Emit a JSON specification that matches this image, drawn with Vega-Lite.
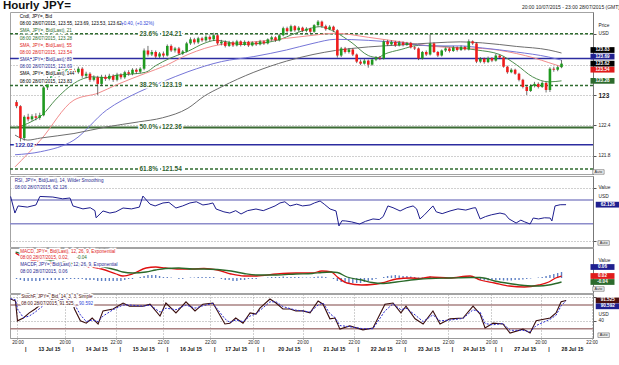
{
"$schema":"https://vega.github.io/schema/vega-lite/v6.json",
"background":"white",
"padding":{"left":2,"top":0,"right":0,"bottom":0},
"spacing":-1,
"title":{"text":"Hourly JPY=","anchor":"start","fontSize":11.5,"fontWeight":"bold","color":"#111111","offset":-7,"dx":-5},
"config":{"font":"Liberation Sans","view":{"stroke":"#a3a3a3","strokeWidth":1}},
"datasets":{
"levels":[{"lvl":124.21,"k":"fib"},{"lvl":123.19,"k":"fib"},{"lvl":121.54,"k":"fib"},{"lvl":122.36,"k":"half"},{"lvl":123.72,"k":"blue"},{"lvl":122.02,"k":"blue"}],
"fibs":[{"lvl":124.21,"a":"23.6%","b":"124.21"},{"lvl":123.19,"a":"38.2%","b":"123.19"},{"lvl":122.36,"a":"50.0%","b":"122.36"},{"lvl":121.54,"a":"61.8%","b":"121.54"}],
"blvl":[{"lvl":122.02,"a":"122.02"}],
"rsiLv":[{"lvl":70},{"lvl":30}],
"stLv":[{"lvl":80},{"lvl":20}],
"boxes":[{"pn":"p","v":123.83,"t":"123.83","s":"k"},{"pn":"p","v":123.69,"t":"123.69","s":"n"},{"pn":"p","v":123.62,"t":"123.62","s":"k"},{"pn":"p","v":123.54,"t":"123.54","s":"r"},{"pn":"p","v":123.28,"t":"123.28","s":"g"},{"pn":"r","v":62.126,"t":"62.126","s":"n"},{"pn":"m","v":0.06,"t":"0.06","s":"n"},{"pn":"m","v":0.02,"t":"0.02","s":"r"},{"pn":"m","v":-0.04,"t":"-0.04","s":"g"},{"pn":"s","v":91.525,"t":"91.525","s":"br"},{"pn":"s","v":90.592,"t":"90.592","s":"n"}],
"legP":[{"n":0,"t":"Cndl, JPY=, Bid","s":"k","p":1},{"n":1,"t":"08:00 28/07/2015, 123.55, 123.69, 123.53, 123.62,","s":"k","p":1},{"n":1,"t":"+0.40, (+0.32%)","s":"b","p":2},{"n":2,"t":"SMA, JPY=, Bid(Last), 21","s":"g","p":1},{"n":3,"t":"08:00 28/07/2015, 123.28","s":"g","p":1},{"n":4,"t":"SMA, JPY=, Bid(Last), 55","s":"r","p":1},{"n":5,"t":"08:00 28/07/2015, 123.54","s":"r","p":1},{"n":6,"t":"SMA, JPY=, Bid(Last), 89","s":"n","p":1},{"n":7,"t":"08:00 28/07/2015, 123.69","s":"n","p":1},{"n":8,"t":"SMA, JPY=, Bid(Last), 144","s":"k","p":1},{"n":9,"t":"08:00 28/07/2015, 123.83","s":"k","p":1}],
"legR":[{"n":0,"t":"RSI, JPY=, Bid(Last), 14, Wilder Smoothing","s":"n","p":1},{"n":1,"t":"08:00 28/07/2015, 62.126","s":"n","p":1}],
"legM":[{"n":0,"t":"MACD, JPY=, Bid(Last), 12, 26, 9, Exponential","s":"r","p":1},{"n":1,"t":"08:00 28/07/2015, 0.02,","s":"r","p":1},{"n":1,"t":"-0.04","s":"g","p":2},{"n":2,"t":"MACDF, JPY=, Bid(Last), 12, 26, 9, Exponential","s":"n","p":1},{"n":3,"t":"08:00 28/07/2015, 0.06","s":"n","p":1}],
"legS":[{"n":0,"t":"StochF, JPY=, Bid, 14, 3, 3, Simple","s":"br","p":1},{"n":1,"t":"08:00 28/07/2015, 91.525,","s":"br","p":1},{"n":1,"t":"90.592","s":"b","p":2}],
"sma":[
{"s":"s21","i":-3.8,"p":122.35},{"s":"s21","i":5,"p":122.48},{"s":"s21","i":10.4,"p":122.61},{"s":"s21","i":17,"p":122.9},{"s":"s21","i":24.2,"p":123.16},{"s":"s21","i":30,"p":123.3},{"s":"s21","i":36,"p":123.36},{"s":"s21","i":43.5,"p":123.34},{"s":"s21","i":48.6,"p":123.39},{"s":"s21","i":55,"p":123.41},{"s":"s21","i":63.8,"p":123.45},{"s":"s21","i":69,"p":123.58},{"s":"s21","i":76,"p":123.72},{"s":"s21","i":86,"p":123.87},{"s":"s21","i":94,"p":124.02},{"s":"s21","i":100,"p":124.08},{"s":"s21","i":106,"p":124.05},{"s":"s21","i":113,"p":124.0},{"s":"s21","i":119,"p":124.01},{"s":"s21","i":125,"p":124.03},{"s":"s21","i":133.5,"p":124.1},{"s":"s21","i":140,"p":124.2},{"s":"s21","i":146,"p":124.28},{"s":"s21","i":154,"p":124.35},{"s":"s21","i":162,"p":124.24},{"s":"s21","i":170.6,"p":124.03},{"s":"s21","i":179,"p":123.78},{"s":"s21","i":184,"p":123.74},{"s":"s21","i":187,"p":123.8},{"s":"s21","i":196,"p":123.9},{"s":"s21","i":205,"p":123.98},{"s":"s21","i":213,"p":123.97},{"s":"s21","i":226.6,"p":123.93},{"s":"s21","i":235,"p":123.89},{"s":"s21","i":247,"p":123.8},{"s":"s21","i":255.6,"p":123.6},{"s":"s21","i":264,"p":123.36},{"s":"s21","i":272.4,"p":123.26},{"s":"s21","i":279,"p":123.28},
{"s":"s55","i":-3.8,"p":121.58},{"s":"s55","i":9.4,"p":122.11},{"s":"s55","i":26.7,"p":122.9},{"s":"s55","i":39.4,"p":123.04},{"s":"s55","i":48.6,"p":123.2},{"s":"s55","i":63.8,"p":123.43},{"s":"s55","i":74,"p":123.58},{"s":"s55","i":85.7,"p":123.8},{"s":"s55","i":103,"p":124.0},{"s":"s55","i":119.8,"p":124.05},{"s":"s55","i":136.7,"p":124.12},{"s":"s55","i":150.4,"p":124.18},{"s":"s55","i":162,"p":124.22},{"s":"s55","i":179,"p":124.14},{"s":"s55","i":196,"p":124.05},{"s":"s55","i":213,"p":123.96},{"s":"s55","i":226.6,"p":123.93},{"s":"s55","i":238,"p":123.92},{"s":"s55","i":255.6,"p":123.82},{"s":"s55","i":265,"p":123.73},{"s":"s55","i":272.4,"p":123.64},{"s":"s55","i":279,"p":123.56},
{"s":"s89","i":-3.8,"p":121.82},{"s":"s89","i":9.4,"p":121.88},{"s":"s89","i":26.7,"p":122.11},{"s":"s89","i":43.5,"p":122.7},{"s":"s89","i":60.3,"p":123.06},{"s":"s89","i":72.5,"p":123.26},{"s":"s89","i":85.7,"p":123.46},{"s":"s89","i":103,"p":123.66},{"s":"s89","i":119.8,"p":123.76},{"s":"s89","i":136.7,"p":123.89},{"s":"s89","i":150.4,"p":124.02},{"s":"s89","i":162,"p":124.1},{"s":"s89","i":179,"p":124.08},{"s":"s89","i":196,"p":124.03},{"s":"s89","i":213,"p":123.97},{"s":"s89","i":226.6,"p":123.97},{"s":"s89","i":238,"p":123.93},{"s":"s89","i":255.6,"p":123.85},{"s":"s89","i":272.4,"p":123.75},{"s":"s89","i":279,"p":123.69},
{"s":"s144","i":-3.8,"p":122.21},{"s":"s144","i":2.8,"p":122.11},{"s":"s144","i":9.4,"p":122.15},{"s":"s144","i":26.7,"p":122.24},{"s":"s144","i":43.5,"p":122.37},{"s":"s144","i":60.3,"p":122.47},{"s":"s144","i":72.5,"p":122.55},{"s":"s144","i":85.7,"p":122.74},{"s":"s144","i":94.2,"p":122.98},{"s":"s144","i":103,"p":123.16},{"s":"s144","i":119.8,"p":123.45},{"s":"s144","i":136.7,"p":123.67},{"s":"s144","i":150.4,"p":123.8},{"s":"s144","i":162,"p":123.88},{"s":"s144","i":179,"p":123.95},{"s":"s144","i":196,"p":123.99},{"s":"s144","i":213,"p":124.03},{"s":"s144","i":226.6,"p":124.05},{"s":"s144","i":238,"p":124.03},{"s":"s144","i":255.6,"p":123.96},{"s":"s144","i":272.4,"p":123.89},{"s":"s144","i":279,"p":123.83}],
"cdl":[
{"i":-3,"o":122.86,"h":122.9,"l":122.74,"c":122.78,"m":-0.01},{"i":-1,"o":122.78,"h":122.8,"l":122.02,"c":122.15,"m":-0.02},{"i":1,"o":122.15,"h":122.6,"l":122.1,"c":122.57,"m":-0.03},{"i":3,"o":122.57,"h":122.63,"l":122.48,"c":122.52,"m":-0.03},{"i":5,"o":122.52,"h":122.62,"l":122.49,"c":122.58,"m":-0.03},{"i":7,"o":122.58,"h":122.64,"l":122.5,"c":122.55,"m":-0.03},{"i":9,"o":122.55,"h":122.65,"l":122.51,"c":122.6,"m":-0.03},{"i":11,"o":122.6,"h":123.18,"l":122.58,"c":123.15,"m":-0.02},{"i":13,"o":123.15,"h":123.36,"l":123.1,"c":123.3,"m":-0.02},{"i":15,"o":123.3,"h":123.46,"l":123.26,"c":123.42,"m":-0.02},{"i":17,"o":123.42,"h":123.47,"l":123.33,"c":123.38,"m":-0.02},{"i":19,"o":123.38,"h":123.55,"l":123.35,"c":123.5,"m":-0.02},{"i":21,"o":123.5,"h":123.56,"l":123.4,"c":123.45,"m":-0.02},{"i":23,"o":123.45,"h":123.6,"l":123.42,"c":123.55,"m":-0.01},{"i":25,"o":123.55,"h":123.58,"l":123.44,"c":123.48,"m":-0.01},{"i":27,"o":123.48,"h":123.52,"l":123.4,"c":123.45,"m":-0.01},{"i":29,"o":123.45,"h":123.56,"l":123.42,"c":123.52,"m":-0.01},{"i":31,"o":123.52,"h":123.55,"l":123.34,"c":123.38,"m":-0.01},{"i":33,"o":123.38,"h":123.46,"l":123.33,"c":123.42,"m":-0.02},{"i":35,"o":123.42,"h":123.45,"l":123.26,"c":123.3,"m":-0.02},{"i":37,"o":123.3,"h":123.39,"l":123.27,"c":123.35,"m":-0.02},{"i":39,"o":123.35,"h":123.38,"l":123.0,"c":123.22,"m":-0.03},{"i":41,"o":123.22,"h":123.4,"l":123.18,"c":123.36,"m":-0.03},{"i":43,"o":123.36,"h":123.4,"l":123.28,"c":123.32,"m":-0.03},{"i":45,"o":123.32,"h":123.42,"l":123.29,"c":123.38,"m":-0.03},{"i":47,"o":123.38,"h":123.41,"l":123.26,"c":123.3,"m":-0.03},{"i":49,"o":123.3,"h":123.44,"l":123.27,"c":123.4,"m":-0.03},{"i":51,"o":123.4,"h":123.43,"l":123.31,"c":123.35,"m":-0.03},{"i":53,"o":123.35,"h":123.48,"l":123.32,"c":123.45,"m":-0.02},{"i":55,"o":123.45,"h":123.49,"l":123.38,"c":123.42,"m":-0.01},{"i":57,"o":123.42,"h":123.53,"l":123.39,"c":123.5,"m":-0.01},{"i":59,"o":123.5,"h":123.53,"l":123.42,"c":123.46,"m":0},{"i":61,"o":123.46,"h":123.55,"l":123.43,"c":123.52,"m":0.01},{"i":63,"o":123.52,"h":123.92,"l":123.49,"c":123.88,"m":0.02},{"i":65,"o":123.88,"h":123.97,"l":123.76,"c":123.8,"m":0.03},{"i":67,"o":123.8,"h":123.89,"l":123.77,"c":123.85,"m":0.03},{"i":69,"o":123.85,"h":123.88,"l":123.72,"c":123.76,"m":0.03},{"i":71,"o":123.76,"h":123.85,"l":123.73,"c":123.82,"m":0.02},{"i":73,"o":123.82,"h":123.86,"l":123.74,"c":123.78,"m":0.01},{"i":75,"o":123.78,"h":124.0,"l":123.76,"c":123.97,"m":0.01},{"i":77,"o":123.97,"h":124.0,"l":123.85,"c":123.88,"m":0.005},{"i":79,"o":123.88,"h":123.95,"l":123.84,"c":123.92,"m":0},{"i":81,"o":123.92,"h":123.95,"l":123.79,"c":123.82,"m":-0.01},{"i":83,"o":123.82,"h":123.89,"l":123.79,"c":123.86,"m":-0.01},{"i":85,"o":123.86,"h":124.05,"l":123.84,"c":124.02,"m":0},{"i":87,"o":124.02,"h":124.14,"l":123.99,"c":124.1,"m":0.005},{"i":89,"o":124.1,"h":124.13,"l":124.0,"c":124.04,"m":0.005},{"i":91,"o":124.04,"h":124.15,"l":124.01,"c":124.12,"m":0.01},{"i":93,"o":124.12,"h":124.15,"l":124.05,"c":124.08,"m":0.01},{"i":95,"o":124.08,"h":124.18,"l":124.05,"c":124.15,"m":0.01},{"i":97,"o":124.15,"h":124.18,"l":124.06,"c":124.1,"m":0.01},{"i":99,"o":124.1,"h":124.23,"l":124.07,"c":124.18,"m":0.01},{"i":101,"o":124.18,"h":124.2,"l":123.99,"c":124.02,"m":0},{"i":103,"o":124.02,"h":124.09,"l":123.98,"c":124.05,"m":-0.01},{"i":105,"o":124.05,"h":124.08,"l":123.94,"c":123.97,"m":-0.02},{"i":107,"o":123.97,"h":124.07,"l":123.95,"c":124.04,"m":-0.02},{"i":109,"o":124.04,"h":124.07,"l":123.95,"c":123.98,"m":-0.03},{"i":111,"o":123.98,"h":124.09,"l":123.96,"c":124.06,"m":-0.03},{"i":113,"o":124.06,"h":124.08,"l":123.96,"c":123.99,"m":-0.02},{"i":115,"o":123.99,"h":124.08,"l":123.97,"c":124.05,"m":-0.02},{"i":117,"o":124.05,"h":124.07,"l":123.95,"c":123.98,"m":-0.01},{"i":119,"o":123.98,"h":124.06,"l":123.96,"c":124.04,"m":-0.01},{"i":121,"o":124.04,"h":124.06,"l":123.97,"c":124.0,"m":-0.01},{"i":123,"o":124.0,"h":124.09,"l":123.98,"c":124.06,"m":0},{"i":125,"o":124.06,"h":124.08,"l":123.99,"c":124.02,"m":0},{"i":127,"o":124.02,"h":124.12,"l":124.0,"c":124.1,"m":0.005},{"i":129,"o":124.1,"h":124.17,"l":124.07,"c":124.14,"m":0.01},{"i":131,"o":124.14,"h":124.16,"l":124.05,"c":124.08,"m":0.01},{"i":133,"o":124.08,"h":124.21,"l":124.06,"c":124.18,"m":0.01},{"i":135,"o":124.18,"h":124.35,"l":124.16,"c":124.32,"m":0.015},{"i":137,"o":124.32,"h":124.35,"l":124.23,"c":124.26,"m":0.01},{"i":139,"o":124.26,"h":124.39,"l":124.24,"c":124.36,"m":0.01},{"i":141,"o":124.36,"h":124.38,"l":124.25,"c":124.28,"m":0.01},{"i":143,"o":124.28,"h":124.36,"l":124.25,"c":124.33,"m":0.01},{"i":145,"o":124.33,"h":124.35,"l":124.24,"c":124.27,"m":0.005},{"i":147,"o":124.27,"h":124.34,"l":124.24,"c":124.31,"m":0.005},{"i":149,"o":124.31,"h":124.33,"l":124.22,"c":124.25,"m":0.005},{"i":151,"o":124.25,"h":124.4,"l":124.23,"c":124.38,"m":0.01},{"i":153,"o":124.38,"h":124.48,"l":124.35,"c":124.45,"m":0.015},{"i":155,"o":124.45,"h":124.47,"l":124.33,"c":124.36,"m":0.015},{"i":157,"o":124.36,"h":124.39,"l":124.27,"c":124.3,"m":0.01},{"i":159,"o":124.3,"h":124.38,"l":124.28,"c":124.35,"m":0},{"i":161,"o":124.35,"h":124.37,"l":124.25,"c":124.28,"m":-0.01},{"i":163,"o":124.28,"h":124.3,"l":123.74,"c":123.78,"m":-0.03},{"i":165,"o":123.78,"h":123.95,"l":123.75,"c":123.92,"m":-0.04},{"i":167,"o":123.92,"h":123.95,"l":123.82,"c":123.85,"m":-0.05},{"i":169,"o":123.85,"h":123.93,"l":123.82,"c":123.9,"m":-0.05},{"i":171,"o":123.9,"h":123.92,"l":123.77,"c":123.8,"m":-0.05},{"i":173,"o":123.8,"h":123.82,"l":123.63,"c":123.66,"m":-0.05},{"i":175,"o":123.66,"h":123.7,"l":123.59,"c":123.62,"m":-0.05},{"i":177,"o":123.62,"h":123.71,"l":123.6,"c":123.68,"m":-0.04},{"i":179,"o":123.68,"h":123.7,"l":123.54,"c":123.6,"m":-0.03},{"i":181,"o":123.6,"h":123.73,"l":123.58,"c":123.7,"m":-0.02},{"i":183,"o":123.7,"h":123.77,"l":123.67,"c":123.74,"m":-0.01},{"i":185,"o":123.74,"h":123.77,"l":123.69,"c":123.72,"m":0},{"i":187,"o":123.72,"h":124.09,"l":123.7,"c":124.06,"m":0.01},{"i":189,"o":124.06,"h":124.09,"l":123.97,"c":124.0,"m":0.02},{"i":191,"o":124.0,"h":124.08,"l":123.98,"c":124.05,"m":0.025},{"i":193,"o":124.05,"h":124.07,"l":123.95,"c":123.98,"m":0.03},{"i":195,"o":123.98,"h":124.07,"l":123.96,"c":124.04,"m":0.025},{"i":197,"o":124.04,"h":124.06,"l":123.96,"c":123.99,"m":0.02},{"i":199,"o":123.99,"h":124.05,"l":123.97,"c":124.03,"m":0.02},{"i":201,"o":124.03,"h":124.05,"l":123.92,"c":123.94,"m":0.015},{"i":203,"o":123.94,"h":123.97,"l":123.89,"c":123.92,"m":0.01},{"i":205,"o":123.92,"h":123.94,"l":123.69,"c":123.72,"m":0.005},{"i":207,"o":123.72,"h":123.87,"l":123.7,"c":123.85,"m":0.005},{"i":209,"o":123.85,"h":123.88,"l":123.77,"c":123.8,"m":0.01},{"i":211,"o":123.8,"h":124.2,"l":123.78,"c":124.02,"m":0.015},{"i":213,"o":124.02,"h":124.04,"l":123.83,"c":123.85,"m":0.01},{"i":215,"o":123.85,"h":123.87,"l":123.75,"c":123.78,"m":0.005},{"i":217,"o":123.78,"h":123.9,"l":123.76,"c":123.88,"m":0},{"i":219,"o":123.88,"h":123.94,"l":123.85,"c":123.92,"m":0},{"i":221,"o":123.92,"h":123.94,"l":123.84,"c":123.87,"m":0},{"i":223,"o":123.87,"h":123.97,"l":123.85,"c":123.94,"m":0.005},{"i":225,"o":123.94,"h":123.96,"l":123.86,"c":123.89,"m":0.005},{"i":227,"o":123.89,"h":123.98,"l":123.87,"c":123.95,"m":0.01},{"i":229,"o":123.95,"h":123.97,"l":123.88,"c":123.9,"m":0.01},{"i":231,"o":123.9,"h":124.1,"l":123.88,"c":124.06,"m":0.015},{"i":233,"o":124.06,"h":124.08,"l":123.99,"c":124.02,"m":0.01},{"i":235,"o":124.02,"h":124.04,"l":123.63,"c":123.66,"m":-0.01},{"i":237,"o":123.66,"h":123.75,"l":123.63,"c":123.72,"m":-0.02},{"i":239,"o":123.72,"h":123.74,"l":123.62,"c":123.65,"m":-0.025},{"i":241,"o":123.65,"h":123.76,"l":123.63,"c":123.73,"m":-0.025},{"i":243,"o":123.73,"h":123.75,"l":123.65,"c":123.68,"m":-0.02},{"i":245,"o":123.68,"h":123.81,"l":123.66,"c":123.78,"m":-0.02},{"i":247,"o":123.78,"h":123.8,"l":123.71,"c":123.74,"m":-0.02},{"i":249,"o":123.74,"h":123.76,"l":123.54,"c":123.56,"m":-0.025},{"i":251,"o":123.56,"h":123.58,"l":123.42,"c":123.45,"m":-0.025},{"i":253,"o":123.45,"h":123.53,"l":123.43,"c":123.5,"m":-0.025},{"i":255,"o":123.5,"h":123.52,"l":123.4,"c":123.42,"m":-0.02},{"i":257,"o":123.42,"h":123.44,"l":123.27,"c":123.3,"m":-0.02},{"i":259,"o":123.3,"h":123.32,"l":123.13,"c":123.16,"m":-0.015},{"i":261,"o":123.16,"h":123.19,"l":123.0,"c":123.08,"m":-0.01},{"i":263,"o":123.08,"h":123.21,"l":123.06,"c":123.18,"m":-0.005},{"i":265,"o":123.18,"h":123.26,"l":123.15,"c":123.22,"m":0},{"i":267,"o":123.22,"h":123.25,"l":123.13,"c":123.16,"m":0.005},{"i":269,"o":123.16,"h":123.27,"l":123.14,"c":123.24,"m":0.01},{"i":271,"o":123.24,"h":123.26,"l":123.05,"c":123.1,"m":0.02},{"i":273,"o":123.1,"h":123.55,"l":123.06,"c":123.52,"m":0.03},{"i":275,"o":123.52,"h":123.56,"l":123.46,"c":123.5,"m":0.04},{"i":277,"o":123.5,"h":123.58,"l":123.47,"c":123.55,"m":0.05},{"i":279,"o":123.55,"h":123.69,"l":123.53,"c":123.62,"m":0.06}],
"rsi":[{"i":-3.5,"v":76},{"i":-1.3,"v":48},{"i":0.3,"v":60},{"i":5,"v":58},{"i":9.4,"v":61.6},{"i":11.4,"v":76},{"i":18,"v":75},{"i":23,"v":72},{"i":26.7,"v":73.4},{"i":28.2,"v":60},{"i":33.3,"v":55},{"i":37,"v":57},{"i":39.4,"v":52},{"i":40,"v":40},{"i":43.5,"v":51.5},{"i":47,"v":48},{"i":50,"v":50},{"i":53.7,"v":56.5},{"i":58,"v":55},{"i":62,"v":58},{"i":63.8,"v":76.7},{"i":67.4,"v":63},{"i":70,"v":60},{"i":74,"v":65},{"i":77,"v":66},{"i":80.6,"v":56.5},{"i":84,"v":60},{"i":87.7,"v":65},{"i":91,"v":67},{"i":94.3,"v":61.6},{"i":97,"v":63},{"i":99.4,"v":65},{"i":101,"v":54.8},{"i":105,"v":50},{"i":108,"v":48},{"i":111,"v":52},{"i":113.7,"v":46.4},{"i":117,"v":52},{"i":121.3,"v":54.8},{"i":125,"v":52},{"i":128.4,"v":56.5},{"i":131,"v":60},{"i":133.5,"v":65},{"i":136,"v":67},{"i":138.6,"v":60},{"i":142,"v":63},{"i":145,"v":60},{"i":148.8,"v":61.6},{"i":151,"v":65},{"i":153.9,"v":68.3},{"i":156,"v":63},{"i":159,"v":54.8},{"i":162,"v":51.5},{"i":163.5,"v":26.2},{"i":165,"v":35},{"i":167,"v":34.6},{"i":170,"v":33},{"i":174,"v":29.5},{"i":177,"v":34},{"i":180.8,"v":38},{"i":184,"v":37},{"i":186,"v":42},{"i":188.4,"v":60},{"i":191,"v":57},{"i":194.6,"v":51.5},{"i":198,"v":57},{"i":201.2,"v":60},{"i":203,"v":55},{"i":204.7,"v":38},{"i":207,"v":45},{"i":209.8,"v":54.8},{"i":211.3,"v":60},{"i":213,"v":50},{"i":216,"v":47},{"i":220,"v":51.5},{"i":224,"v":55},{"i":228,"v":53},{"i":231.7,"v":56.5},{"i":233,"v":57},{"i":235.3,"v":38},{"i":238,"v":42},{"i":241,"v":45},{"i":245.4,"v":48},{"i":248,"v":46},{"i":250,"v":38},{"i":253.6,"v":31.2},{"i":256,"v":36},{"i":258,"v":33},{"i":260.7,"v":29.5},{"i":262.3,"v":39.6},{"i":265,"v":38},{"i":268,"v":40},{"i":270.9,"v":39.6},{"i":271.8,"v":34.6},{"i":273.4,"v":60},{"i":276,"v":62},{"i":279,"v":62.1}],
"macd":[{"i":-3.5,"mc":0.25,"sg":0.26},{"i":-1,"mc":0.22,"sg":0.245},{"i":5,"mc":0.18,"sg":0.21},{"i":10,"mc":0.16,"sg":0.19},{"i":20,"mc":0.14,"sg":0.16},{"i":30,"mc":0.12,"sg":0.135},{"i":41,"mc":0.09,"sg":0.115},{"i":48.6,"mc":0.04,"sg":0.08},{"i":52,"mc":0.02,"sg":0.06},{"i":57,"mc":0.04,"sg":0.05},{"i":64,"mc":0.1,"sg":0.06},{"i":69,"mc":0.11,"sg":0.08},{"i":74,"mc":0.1,"sg":0.095},{"i":81,"mc":0.09,"sg":0.1},{"i":88,"mc":0.09,"sg":0.09},{"i":94,"mc":0.095,"sg":0.09},{"i":101,"mc":0.08,"sg":0.085},{"i":108,"mc":0.04,"sg":0.07},{"i":114.7,"mc":0.02,"sg":0.045},{"i":121.3,"mc":0.02,"sg":0.03},{"i":131.5,"mc":0.04,"sg":0.03},{"i":141.6,"mc":0.05,"sg":0.04},{"i":150,"mc":0.05,"sg":0.045},{"i":155,"mc":0.07,"sg":0.055},{"i":160,"mc":0.06,"sg":0.06},{"i":163,"mc":0.01,"sg":0.055},{"i":168,"mc":-0.05,"sg":0.01},{"i":175.7,"mc":-0.07,"sg":-0.02},{"i":181,"mc":-0.065,"sg":-0.045},{"i":186,"mc":-0.05,"sg":-0.055},{"i":193.5,"mc":-0.01,"sg":-0.04},{"i":201,"mc":0.0,"sg":-0.02},{"i":206,"mc":-0.005,"sg":-0.01},{"i":211,"mc":0.01,"sg":-0.005},{"i":221,"mc":0.0,"sg":0.0},{"i":231.7,"mc":0.02,"sg":0.005},{"i":236.8,"mc":-0.02,"sg":0.005},{"i":244.4,"mc":-0.05,"sg":-0.03},{"i":252,"mc":-0.08,"sg":-0.055},{"i":259.7,"mc":-0.09,"sg":-0.075},{"i":267.3,"mc":-0.07,"sg":-0.08},{"i":272.4,"mc":-0.04,"sg":-0.07},{"i":276,"mc":0.0,"sg":-0.055},{"i":279,"mc":0.02,"sg":-0.04}],
"sto":[{"i":-3.5,"k":95,"d":96},{"i":-1,"k":90,"d":93},{"i":0,"k":40,"d":70},{"i":3,"k":47,"d":48},{"i":6,"k":60,"d":52},{"i":9,"k":70,"d":62},{"i":13,"k":86,"d":78},{"i":17,"k":94,"d":90},{"i":21,"k":92,"d":93},{"i":25,"k":96,"d":94},{"i":28,"k":88,"d":92},{"i":29,"k":70,"d":82},{"i":32,"k":40,"d":55},{"i":35,"k":34,"d":38},{"i":38,"k":47,"d":42},{"i":41,"k":32,"d":38},{"i":43.5,"k":65,"d":52},{"i":48.6,"k":70,"d":68},{"i":53.7,"k":85,"d":80},{"i":57,"k":77,"d":80},{"i":63.8,"k":77,"d":77},{"i":67.4,"k":82,"d":80},{"i":72.5,"k":52,"d":62},{"i":75.5,"k":85,"d":72},{"i":80.6,"k":60,"d":68},{"i":85.7,"k":88,"d":80},{"i":90.3,"k":65,"d":72},{"i":94.3,"k":82,"d":78},{"i":99.4,"k":85,"d":84},{"i":105.5,"k":32,"d":45},{"i":108,"k":34,"d":36},{"i":111,"k":47,"d":42},{"i":114.7,"k":34,"d":38},{"i":118.3,"k":60,"d":52},{"i":121.3,"k":57,"d":58},{"i":123.3,"k":72,"d":66},{"i":128.4,"k":95,"d":88},{"i":131.5,"k":85,"d":88},{"i":135,"k":70,"d":76},{"i":138.6,"k":70,"d":71},{"i":141.6,"k":65,"d":67},{"i":145.2,"k":65,"d":65},{"i":148.8,"k":60,"d":62},{"i":152.9,"k":90,"d":80},{"i":155.4,"k":82,"d":85},{"i":158.9,"k":45,"d":58},{"i":161.5,"k":47,"d":48},{"i":164,"k":19,"d":28},{"i":169,"k":27,"d":25},{"i":175.7,"k":17,"d":20},{"i":180.8,"k":22,"d":20},{"i":186.9,"k":82,"d":65},{"i":191,"k":85,"d":83},{"i":195,"k":60,"d":68},{"i":197.6,"k":77,"d":72},{"i":202.2,"k":45,"d":55},{"i":206.3,"k":32,"d":38},{"i":211.3,"k":65,"d":55},{"i":214.9,"k":32,"d":40},{"i":220,"k":45,"d":42},{"i":226.6,"k":47,"d":46},{"i":231.7,"k":77,"d":68},{"i":235.3,"k":57,"d":62},{"i":237.8,"k":22,"d":33},{"i":241.9,"k":34,"d":30},{"i":246.9,"k":32,"d":33},{"i":250.5,"k":9,"d":16},{"i":257.1,"k":19,"d":16},{"i":260.7,"k":9,"d":12},{"i":263.8,"k":40,"d":28},{"i":270.9,"k":47,"d":44},{"i":273.9,"k":60,"d":54},{"i":276.5,"k":88,"d":78},{"i":279,"k":91.5,"d":90.6}]
},
"vconcat":[
{
"width":583,"height":162,
"title":{"text":"20:00 10/07/2015 - 23:00 28/07/2015 (GMT)","anchor":"end","frame":"group","fontSize":5,"fontWeight":"normal","color":"#222222","offset":2,"dx":27},
"layer":[
{"layer":[
{"data":{"name":"levels"},"transform":[{"filter":"datum.k=='fib'"}],"mark":{"type":"rule","color":"#2f6b2f","strokeDash":[3,2],"strokeWidth":1.5},
 "encoding":{"y":{"field":"lvl","type":"quantitative","scale":{"domain":[121.44,124.64],"nice":false,"zero":false},
 "axis":{"orient":"right","values":[121.8,122.1,122.4,122.7,123,123.3,123.6,123.9,124.2,124.5],"labelExpr":"datum.value > 123.05 ? '' : (datum.value == 123 ? '123' : format(datum.value, '.1f'))","labelFontSize":{"condition":{"test":"datum.value == 123","value":6.5},"value":4.8},"labelFontWeight":{"condition":{"test":"datum.value == 123","value":"bold"},"value":"normal"},"labelColor":"#222222","labelPadding":2,"tickSize":3,"tickColor":"#555555","domainColor":"#777777","grid":true,"gridDash":[1,2],"gridColor":"#a0a0a0","title":["Price","USD"],"titleAngle":0,"titleAlign":"left","titleBaseline":"top","titleX":5,"titleY":10.5,"titleFontSize":4.8,"titleFontWeight":"normal","titleLineHeight":7.7,"titleColor":"#222222"}}}},
{"data":{"name":"levels"},"transform":[{"filter":"datum.k=='half'"}],"mark":{"type":"rule","color":"#3b6b34","strokeWidth":2},"encoding":{"y":{"field":"lvl","type":"quantitative"}}},
{"data":{"name":"levels"},"transform":[{"filter":"datum.k=='blue'"}],"mark":{"type":"rule","color":"#2c2ca0","strokeWidth":1.5},"encoding":{"y":{"field":"lvl","type":"quantitative"}}},
{"data":{"name":"sma"},"mark":{"type":"line","strokeWidth":1,"interpolate":"monotone"},
 "encoding":{"x":{"field":"i","type":"quantitative","scale":{"domain":[-3.8,292.7],"nice":false,"zero":false},
 "axis":{"values":[0,12,24,38,50,62,74,86,98,110,120,133,145,159,171,183,195,207,219,231,241,254,266,280,292],"grid":true,"gridDash":[1,2],"gridColor":"#a0a0a0","labels":false,"ticks":false,"domain":false,"title":null}},
 "y":{"field":"p","type":"quantitative"},
 "color":{"field":"s","type":"nominal","legend":null,"scale":{"domain":["k","g","r","n","b","s21","s55","s89","s144","br"],"range":["#000000","#2d6b2d","#e01b1b","#1f1f8f","#2f3fd8","#4f8f4f","#f28c8c","#7676d8","#6e6e6e","#4a1010"]}}}},
{"data":{"name":"cdl"},"mark":{"type":"rule","color":"#333333","strokeWidth":0.7},"encoding":{"x":{"field":"i","type":"quantitative","scale":{"domain":[-3.8,292.7],"nice":false,"zero":false}},"y":{"field":"l","type":"quantitative"},"y2":{"field":"h"}}},
{"data":{"name":"cdl"},"mark":{"type":"bar","width":2.6},"encoding":{"x":{"field":"i","type":"quantitative","scale":{"domain":[-3.8,292.7],"nice":false,"zero":false}},"y":{"field":"o","type":"quantitative"},"y2":{"field":"c"},"color":{"condition":{"test":"datum.c >= datum.o","value":"#1f9a1f"},"value":"#f01c1c"}}},
{"data":{"name":"fibs"},"encoding":{"x":{"datum":71.2},"y":{"field":"lvl","type":"quantitative"}},"layer":[
 {"mark":{"type":"text","align":"right","baseline":"middle","dx":-2,"fontSize":6.5,"fontWeight":"bold","fill":"white","stroke":"white","strokeWidth":3},"encoding":{"text":{"field":"a"}}},
 {"mark":{"type":"text","align":"left","baseline":"middle","dx":2,"fontSize":6.5,"fontWeight":"bold","fill":"white","stroke":"white","strokeWidth":3},"encoding":{"text":{"field":"b"}}},
 {"mark":{"type":"text","align":"right","baseline":"middle","dx":-2,"fontSize":6.5,"fontWeight":"bold","color":"#2f5f2f"},"encoding":{"text":{"field":"a"}}},
 {"mark":{"type":"text","align":"left","baseline":"middle","dx":2,"fontSize":6.5,"fontWeight":"bold","color":"#2f5f2f"},"encoding":{"text":{"field":"b"}}}
]},
{"data":{"name":"blvl"},"encoding":{"x":{"datum":1.0},"y":{"field":"lvl","type":"quantitative"},"text":{"field":"a"}},"layer":[
 {"mark":{"type":"text","align":"center","baseline":"middle","fontSize":6,"fontWeight":"bold","fill":"white","stroke":"white","strokeWidth":3}},
 {"mark":{"type":"text","align":"center","baseline":"middle","fontSize":6,"fontWeight":"bold","color":"#2c2ca0"}}
]},
{"data":{"name":"boxes"},"transform":[{"filter":"datum.pn=='p'"}],"encoding":{"x":{"datum":300.2},"y":{"field":"v","type":"quantitative"}},"layer":[
 {"mark":{"type":"point","shape":"M-1,-0.24H1V0.24H-1Z","filled":true,"size":576,"opacity":1,"yOffset":{"expr":"datum.t=='123.83'?-3:datum.t=='123.69'?-3.5:datum.t=='123.54'?2:0"}},
  "encoding":{"color":{"field":"s","type":"nominal","legend":null,"scale":{"domain":["k","g","r","n","b","s21","s55","s89","s144","br"],"range":["#000000","#2d6b2d","#e01b1b","#1f1f8f","#2f3fd8","#4f8f4f","#f28c8c","#7676d8","#6e6e6e","#4a1010"]}}}},
 {"mark":{"type":"text","fontSize":4.6,"fontWeight":"bold","color":"white","align":"center","baseline":"middle","yOffset":{"expr":"datum.t=='123.83'?-3:datum.t=='123.69'?-3.5:datum.t=='123.54'?2:0"}},"encoding":{"text":{"field":"t"}}}
]},
{"data":{"values":[{"t":"Auto"}]},"encoding":{"x":{"datum":298.1},"y":{"datum":121.48}},"layer":[
 {"mark":{"type":"point","shape":"M-1,-0.4H1V0.4H-1Z","filled":true,"size":130,"fill":"#f2f2f2","stroke":"#6a6a6a","strokeWidth":0.6,"opacity":1}},
 {"mark":{"type":"text","fontSize":3.8,"color":"#222222","align":"center","baseline":"middle"},"encoding":{"text":{"field":"t"}}}
]}
]},
{"data":{"name":"legP"},"encoding":{"y":{"field":"n","type":"quantitative","scale":{"domain":[-0.71,21.87],"reverse":true,"nice":false,"zero":false},"axis":null},"text":{"field":"t"}},"layer":[
 {"transform":[{"filter":"datum.p==1"}],"mark":{"type":"text","align":"left","baseline":"middle","fontSize":4.6,"fill":"white","stroke":"white","strokeWidth":2.5},"encoding":{"x":{"datum":-1.4,"axis":null}}},
 {"transform":[{"filter":"datum.p==2"}],"mark":{"type":"text","align":"left","baseline":"middle","fontSize":4.6,"fill":"white","stroke":"white","strokeWidth":2.5},"encoding":{"x":{"datum":51.1,"axis":null}}},
 {"transform":[{"filter":"datum.p==1"}],"mark":{"type":"text","align":"left","baseline":"middle","fontSize":4.6},"encoding":{"x":{"datum":-1.4,"axis":null},"color":{"field":"s","type":"nominal","legend":null,"scale":{"domain":["k","g","r","n","b","s21","s55","s89","s144","br"],"range":["#000000","#2d6b2d","#e01b1b","#1f1f8f","#2f3fd8","#4f8f4f","#f28c8c","#7676d8","#6e6e6e","#4a1010"]}}}},
 {"transform":[{"filter":"datum.p==2"}],"mark":{"type":"text","align":"left","baseline":"middle","fontSize":4.6},"encoding":{"x":{"datum":51.1,"axis":null},"color":{"field":"s","type":"nominal","legend":null,"scale":{"domain":["k","g","r","n","b","s21","s55","s89","s144","br"],"range":["#000000","#2d6b2d","#e01b1b","#1f1f8f","#2f3fd8","#4f8f4f","#f28c8c","#7676d8","#6e6e6e","#4a1010"]}}}}
]}
],
"resolve":{"scale":{"y":"independent"}}
},
{
"width":583,"height":71,
"layer":[
{"layer":[
{"data":{"name":"rsiLv"},"mark":{"type":"rule","color":"#8c8cca","strokeWidth":1.5},
 "encoding":{"y":{"field":"lvl","type":"quantitative","scale":{"domain":[-9.3,110.5],"nice":false,"zero":false},
 "axis":{"orient":"right","values":[0,30,60,90],"labelExpr":"datum.value==30?'30':''","labelFontSize":4.8,"labelColor":"#222222","labelPadding":2,"tickSize":3,"tickColor":"#555555","domainColor":"#777777","grid":true,"gridDash":[1,2],"gridColor":"#a0a0a0","title":["Value","USD"],"titleAngle":0,"titleAlign":"left","titleBaseline":"top","titleX":5,"titleY":8.5,"titleFontSize":4.8,"titleFontWeight":"normal","titleLineHeight":9,"titleColor":"#222222"}}}},
{"data":{"name":"rsi"},"mark":{"type":"line","color":"#1e1e8e","strokeWidth":1},
 "encoding":{"x":{"field":"i","type":"quantitative","scale":{"domain":[-3.8,292.7],"nice":false,"zero":false},"axis":{"values":[0,12,24,38,50,62,74,86,98,110,120,133,145,159,171,183,195,207,219,231,241,254,266,280,292],"grid":true,"gridDash":[1,2],"gridColor":"#a0a0a0","labels":false,"ticks":false,"domain":false,"title":null}},"y":{"field":"v","type":"quantitative"}}},
{"data":{"name":"boxes"},"transform":[{"filter":"datum.pn=='r'"}],"encoding":{"x":{"datum":300.2},"y":{"field":"v","type":"quantitative"}},"layer":[
 {"mark":{"type":"point","shape":"M-1,-0.24H1V0.24H-1Z","filled":true,"size":576,"opacity":1},
  "encoding":{"color":{"field":"s","type":"nominal","legend":null,"scale":{"domain":["k","g","r","n","b","s21","s55","s89","s144","br"],"range":["#000000","#2d6b2d","#e01b1b","#1f1f8f","#2f3fd8","#4f8f4f","#f28c8c","#7676d8","#6e6e6e","#4a1010"]}}}},
 {"mark":{"type":"text","fontSize":4.6,"fontWeight":"bold","color":"white","align":"center","baseline":"middle"},"encoding":{"text":{"field":"t"}}}
]},
{"data":{"values":[{"t":"Auto"}]},"encoding":{"x":{"datum":298.1},"y":{"datum":-2.5}},"layer":[
 {"mark":{"type":"point","shape":"M-1,-0.4H1V0.4H-1Z","filled":true,"size":130,"fill":"#f2f2f2","stroke":"#6a6a6a","strokeWidth":0.6,"opacity":1}},
 {"mark":{"type":"text","fontSize":3.8,"color":"#222222","align":"center","baseline":"middle"},"encoding":{"text":{"field":"t"}}}
]}
]},
{"data":{"name":"legR"},"encoding":{"y":{"field":"n","type":"quantitative","scale":{"domain":[-0.671,9.47],"reverse":true,"nice":false,"zero":false},"axis":null},"text":{"field":"t"},"x":{"datum":-1.4,"axis":null}},"layer":[
 {"mark":{"type":"text","align":"left","baseline":"middle","fontSize":4.6,"fill":"white","stroke":"white","strokeWidth":2.5}},
 {"mark":{"type":"text","align":"left","baseline":"middle","fontSize":4.6,"color":"#1f1f8f"}}
]}
],
"resolve":{"scale":{"y":"independent"}}
},
{
"width":583,"height":45,
"layer":[
{"layer":[
{"data":{"name":"cdl"},"mark":{"type":"bar","width":1.4,"color":"#5d7fc4"},
 "encoding":{"x":{"field":"i","type":"quantitative","scale":{"domain":[-3.8,292.7],"nice":false,"zero":false},"axis":{"values":[0,12,24,38,50,62,74,86,98,110,120,133,145,159,171,183,195,207,219,231,241,254,266,280,292],"grid":true,"gridDash":[1,2],"gridColor":"#a0a0a0","labels":false,"ticks":false,"domain":false,"title":null}},
 "y":{"field":"m","type":"quantitative","scale":{"domain":[-0.15,0.3],"nice":false,"zero":false},"axis":{"orient":"right","values":[0],"labels":false,"ticks":false,"domainColor":"#777777","grid":false,"title":["Value"],"titleAngle":0,"titleAlign":"left","titleBaseline":"top","titleX":5,"titleY":9,"titleFontSize":4.8,"titleFontWeight":"normal","titleColor":"#222222"}},"y2":{"datum":0}}},
{"data":{"name":"macd"},"mark":{"type":"line","color":"#e01010","strokeWidth":1.3,"interpolate":"monotone"},"encoding":{"x":{"field":"i","type":"quantitative","scale":{"domain":[-3.8,292.7],"nice":false,"zero":false}},"y":{"field":"mc","type":"quantitative"}}},
{"data":{"name":"macd"},"mark":{"type":"line","color":"#2a6a2a","strokeWidth":1.3,"interpolate":"monotone"},"encoding":{"x":{"field":"i","type":"quantitative","scale":{"domain":[-3.8,292.7],"nice":false,"zero":false}},"y":{"field":"sg","type":"quantitative"}}},
{"data":{"name":"boxes"},"transform":[{"filter":"datum.pn=='m'"}],"encoding":{"x":{"datum":300.2},"y":{"field":"v","type":"quantitative"}},"layer":[
 {"mark":{"type":"point","shape":"M-1,-0.24H1V0.24H-1Z","filled":true,"size":576,"opacity":1,"yOffset":{"expr":"datum.t=='0.06'?-5:0"}},
  "encoding":{"color":{"field":"s","type":"nominal","legend":null,"scale":{"domain":["k","g","r","n","b","s21","s55","s89","s144","br"],"range":["#000000","#2d6b2d","#e01b1b","#1f1f8f","#2f3fd8","#4f8f4f","#f28c8c","#7676d8","#6e6e6e","#4a1010"]}}}},
 {"mark":{"type":"text","fontSize":4.6,"fontWeight":"bold","color":"white","align":"center","baseline":"middle","yOffset":{"expr":"datum.t=='0.06'?-5:0"}},"encoding":{"text":{"field":"t"}}}
]},
{"data":{"values":[{"t":"Auto"}]},"encoding":{"x":{"datum":298.1},"y":{"datum":-0.11}},"layer":[
 {"mark":{"type":"point","shape":"M-1,-0.4H1V0.4H-1Z","filled":true,"size":130,"fill":"#f2f2f2","stroke":"#6a6a6a","strokeWidth":0.6,"opacity":1}},
 {"mark":{"type":"text","fontSize":3.8,"color":"#222222","align":"center","baseline":"middle"},"encoding":{"text":{"field":"t"}}}
]}
]},
{"data":{"name":"legM"},"encoding":{"y":{"field":"n","type":"quantitative","scale":{"domain":[-0.544,6.074],"reverse":true,"nice":false,"zero":false},"axis":null},"text":{"field":"t"}},"layer":[
 {"transform":[{"filter":"datum.p==1"}],"mark":{"type":"text","align":"left","baseline":"middle","fontSize":4.6,"fill":"white","stroke":"white","strokeWidth":2.5},"encoding":{"x":{"datum":-1.1,"axis":null}}},
 {"transform":[{"filter":"datum.p==2"}],"mark":{"type":"text","align":"left","baseline":"middle","fontSize":4.6,"fill":"white","stroke":"white","strokeWidth":2.5},"encoding":{"x":{"datum":28,"axis":null}}},
 {"transform":[{"filter":"datum.p==1"}],"mark":{"type":"text","align":"left","baseline":"middle","fontSize":4.6},"encoding":{"x":{"datum":-1.1,"axis":null},"color":{"field":"s","type":"nominal","legend":null,"scale":{"domain":["k","g","r","n","b","s21","s55","s89","s144","br"],"range":["#000000","#2d6b2d","#e01b1b","#1f1f8f","#2f3fd8","#4f8f4f","#f28c8c","#7676d8","#6e6e6e","#4a1010"]}}}},
 {"transform":[{"filter":"datum.p==2"}],"mark":{"type":"text","align":"left","baseline":"middle","fontSize":4.6},"encoding":{"x":{"datum":28,"axis":null},"color":{"field":"s","type":"nominal","legend":null,"scale":{"domain":["k","g","r","n","b","s21","s55","s89","s144","br"],"range":["#000000","#2d6b2d","#e01b1b","#1f1f8f","#2f3fd8","#4f8f4f","#f28c8c","#7676d8","#6e6e6e","#4a1010"]}}}}
]}
],
"resolve":{"scale":{"y":"independent"}}
},
{
"width":583,"height":44,
"layer":[
{"layer":[
{"data":{"name":"stLv"},"mark":{"type":"rule","color":"#a98282","strokeWidth":1.5},
 "encoding":{"y":{"field":"lvl","type":"quantitative","scale":{"domain":[-3.5,107.8],"nice":false,"zero":false},
 "axis":{"orient":"right","values":[40,100],"labelExpr":"datum.value==40?'40':''","labelFontSize":4.8,"labelColor":"#222222","labelPadding":2,"tickSize":3,"tickColor":"#555555","domainColor":"#777777","grid":true,"gridDash":[1,2],"gridColor":"#a0a0a0","title":["USD"],"titleAngle":0,"titleAlign":"left","titleBaseline":"top","titleX":5,"titleY":17,"titleFontSize":4.8,"titleFontWeight":"normal","titleColor":"#222222"}}}},
{"data":{"name":"sto"},"mark":{"type":"line","color":"#3a0d0d","strokeWidth":1.1},
 "encoding":{"x":{"field":"i","type":"quantitative","scale":{"domain":[-3.8,292.7],"nice":false,"zero":false},
 "axis":{"orient":"bottom","values":[0,12,24,38,50,62,74,86,98,110,120,133,145,159,171,183,195,207,219,231,241,254,266,280,292],"labelExpr":"['20:00','08:00','20:00','10:00','22:00','10:00','22:00','10:00','22:00','10:00','20:00','08:00','20:00','10:00','22:00','10:00','22:00','10:00','22:00','10:00','20:00','08:00','20:00','10:00','22:00'][indexof([0,12,24,38,50,62,74,86,98,110,120,133,145,159,171,183,195,207,219,231,241,254,266,280,292], datum.value)]","labelFontSize":4.6,"labelColor":"#222222","labelOverlap":false,"labelFlush":false,"tickSize":1,"tickColor":"#777777","domain":true,"domainColor":"#999999","grid":true,"gridDash":[1,2],"gridColor":"#a0a0a0","labelPadding":0,"title":null}},
 "y":{"field":"k","type":"quantitative"}}},
{"data":{"name":"boxes"},"transform":[{"filter":"datum.pn=='s'"}],"encoding":{"x":{"datum":300.2},"y":{"field":"v","type":"quantitative"}},"layer":[
 {"mark":{"type":"point","shape":"M-1,-0.24H1V0.24H-1Z","filled":true,"size":576,"opacity":1,"yOffset":{"expr":"datum.t=='90.592'?5.5:0"}},
  "encoding":{"color":{"field":"s","type":"nominal","legend":null,"scale":{"domain":["k","g","r","n","b","s21","s55","s89","s144","br"],"range":["#000000","#2d6b2d","#e01b1b","#1f1f8f","#2f3fd8","#4f8f4f","#f28c8c","#7676d8","#6e6e6e","#4a1010"]}}}},
 {"mark":{"type":"text","fontSize":4.6,"fontWeight":"bold","color":"white","align":"center","baseline":"middle","yOffset":{"expr":"datum.t=='90.592'?5.5:0"}},"encoding":{"text":{"field":"t"}}}
]},
{"data":{"values":[{"t":"Auto"}]},"encoding":{"x":{"datum":298.1},"y":{"datum":3.6}},"layer":[
 {"mark":{"type":"point","shape":"M-1,-0.4H1V0.4H-1Z","filled":true,"size":130,"fill":"#f2f2f2","stroke":"#6a6a6a","strokeWidth":0.6,"opacity":1}},
 {"mark":{"type":"text","fontSize":3.8,"color":"#222222","align":"center","baseline":"middle"},"encoding":{"text":{"field":"t"}}}
]}
]},
{"data":{"name":"sto"},"mark":{"type":"line","color":"#2a2ad0","strokeWidth":1,"strokeDash":[2,1.5]},
 "encoding":{"x":{"field":"i","type":"quantitative","scale":{"domain":[-3.8,292.7],"nice":false,"zero":false},
 "axis":{"orient":"bottom","values":[4,16,28,40,52,64,76,88,100,111,122,125,138,149,161,173,185,197,209,221,232,243,246,258,270,282],"labelExpr":"indexof([16,40,64,88,111,138,161,185,209,232,258,282], datum.value) >= 0 ? ['13 Jul 15','14 Jul 15','15 Jul 15','16 Jul 15','17 Jul 15','20 Jul 15','21 Jul 15','22 Jul 15','23 Jul 15','24 Jul 15','27 Jul 15','28 Jul 15'][indexof([16,40,64,88,111,138,161,185,209,232,258,282], datum.value)] : '|'","labelFontSize":5.2,"labelFontWeight":"bold","labelColor":"#111111","labelOverlap":false,"labelFlush":false,"ticks":false,"domain":false,"grid":false,"offset":8,"labelPadding":0,"title":null}},
 "y":{"field":"d","type":"quantitative","scale":{"domain":[-3.5,107.8],"nice":false,"zero":false},"axis":null}}},
{"data":{"name":"legS"},"encoding":{"y":{"field":"n","type":"quantitative","scale":{"domain":[-0.411,5.616],"reverse":true,"nice":false,"zero":false},"axis":null},"text":{"field":"t"}},"layer":[
 {"transform":[{"filter":"datum.p==1"}],"mark":{"type":"text","align":"left","baseline":"middle","fontSize":4.6,"fill":"white","stroke":"white","strokeWidth":2.5},"encoding":{"x":{"datum":1.9,"axis":null}}},
 {"transform":[{"filter":"datum.p==2"}],"mark":{"type":"text","align":"left","baseline":"middle","fontSize":4.6,"fill":"white","stroke":"white","strokeWidth":2.5},"encoding":{"x":{"datum":31.3,"axis":null}}},
 {"transform":[{"filter":"datum.p==1"}],"mark":{"type":"text","align":"left","baseline":"middle","fontSize":4.6},"encoding":{"x":{"datum":1.9,"axis":null},"color":{"field":"s","type":"nominal","legend":null,"scale":{"domain":["k","g","r","n","b","s21","s55","s89","s144","br"],"range":["#000000","#2d6b2d","#e01b1b","#1f1f8f","#2f3fd8","#4f8f4f","#f28c8c","#7676d8","#6e6e6e","#4a1010"]}}}},
 {"transform":[{"filter":"datum.p==2"}],"mark":{"type":"text","align":"left","baseline":"middle","fontSize":4.6},"encoding":{"x":{"datum":31.3,"axis":null},"color":{"field":"s","type":"nominal","legend":null,"scale":{"domain":["k","g","r","n","b","s21","s55","s89","s144","br"],"range":["#000000","#2d6b2d","#e01b1b","#1f1f8f","#2f3fd8","#4f8f4f","#f28c8c","#7676d8","#6e6e6e","#4a1010"]}}}}
]}
],
"resolve":{"scale":{"y":"independent"},"axis":{"x":"independent"}}
}
]
}
